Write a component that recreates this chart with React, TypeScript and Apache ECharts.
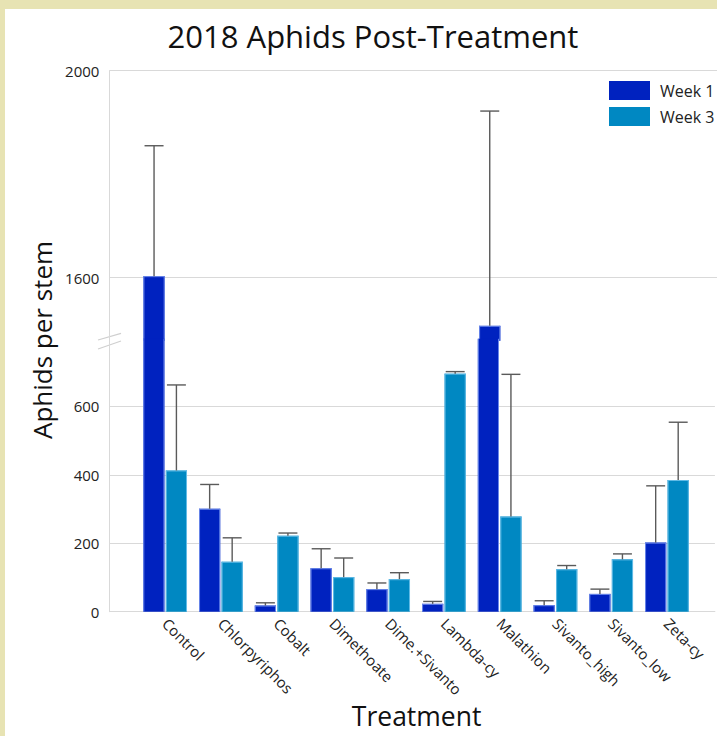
import React, { useEffect, useRef } from "react";
import * as echarts from "echarts";

// ---- data ----
const categories = [
  "Control",
  "Chlorpyriphos",
  "Cobalt",
  "Dimethoate",
  "Dime.+Sivanto",
  "Lambda-cy",
  "Malathion",
  "Sivanto_high",
  "Sivanto_low",
  "Zeta-cy",
];
const week1Mean = [1603, 301, 18, 127, 66, 23, 1507, 19, 52, 202];
const week1Upper = [1855, 372, 26, 184, 84, 30, 1922, 32, 66, 368];
const week3Mean = [413, 146, 222, 101, 95, 696, 278, 124, 153, 385];
const week3Upper = [663, 216, 230, 157, 114, 702, 694, 135, 169, 554];
const upperTicks = [1600, 2000];

// broken axis ranges
const LOW_MIN = 0;
const LOW_MAX = 795;
const UP_MIN = 1480;
const UP_MAX = 2000;

const C1 = "#0022BF";
const C3 = "#0088C2";
const B1 = "#6a88ea";
const B3 = "#62bbe6";
const ERR = "#5a5a5a";
const GRID = "#d9d9d9";
const FONT = "Open Sans";
const TXT = "#222";

function makeRender(side: number, yMin: number, yMax: number, fill: string, stroke: string) {
  return (params: any, api: any) => {
    const xi = api.value(0);
    const v = api.value(1);
    const e = api.value(2);
    const band = api.size([1, 0])[0];
    const cx = api.coord([xi, yMin])[0];
    const barW = band * 0.38;
    const gap = band * 0.012;
    const left = side < 0 ? cx - gap - barW : cx + gap;
    const right = left + barW;
    const mid = left + barW / 2;
    const children: any[] = [];
    if (v > yMin) {
      let top = api.coord([xi, Math.min(v, yMax)])[1];
      let bottom = api.coord([xi, yMin])[1];
      if (v > yMax) top -= 1; // overlap the seam with the upper segment
      if (yMin > 0) bottom += 1;
      children.push({
        type: "rect",
        shape: { x: left, y: top, width: barW, height: bottom - top },
        style: { fill },
      });
      const ls = { stroke, lineWidth: 1 };
      children.push({ type: "line", shape: { x1: left + 0.5, y1: top, x2: left + 0.5, y2: bottom }, style: ls });
      children.push({ type: "line", shape: { x1: right - 0.5, y1: top, x2: right - 0.5, y2: bottom }, style: ls });
      if (v <= yMax) {
        children.push({ type: "line", shape: { x1: left, y1: top + 0.5, x2: right, y2: top + 0.5 }, style: ls });
      }
    }
    if (e > yMin && v < yMax) {
      const lo = api.coord([xi, Math.max(v, yMin)])[1];
      const hi = api.coord([xi, Math.min(e, yMax)])[1];
      children.push({
        type: "line",
        shape: { x1: mid, y1: lo, x2: mid, y2: hi },
        style: { stroke: ERR, lineWidth: 1.4 },
      });
      if (e <= yMax) {
        const cap = band * 0.17;
        children.push({
          type: "line",
          shape: { x1: mid - cap, y1: hi, x2: mid + cap, y2: hi },
          style: { stroke: ERR, lineWidth: 1.4 },
        });
      }
    }
    return { type: "group", children };
  };
}

export default function App() {
  const ref = useRef<HTMLDivElement>(null);
  useEffect(() => {
    document.body.style.margin = "0";
    const chart = echarts.init(ref.current!, null, { renderer: "svg" });
    const d1 = categories.map((_, i) => [i + 1, week1Mean[i], week1Upper[i]]);
    const d3 = categories.map((_, i) => [i + 1, week3Mean[i], week3Upper[i]]);
    const gridLeft = 109.4;
    const xBase = {
      type: "value",
      min: 0,
      max: 10.86,
      interval: 1,
      splitLine: { show: false },
      axisTick: { show: false },
    };
    chart.setOption({
      animation: false,
      backgroundColor: "#ffffff",
      textStyle: { fontFamily: FONT },
      title: {
        text: "2018 Aphids Post-Treatment",
        left: 368,
        top: 15,
        textAlign: "center",
        textStyle: { fontFamily: FONT, fontSize: 31, fontWeight: "normal", color: "#111" },
      },
      legend: {
        orient: "vertical",
        left: 609,
        top: 81,
        padding: 0,
        itemWidth: 41,
        itemHeight: 19,
        itemGap: 7,
        icon: "rect",
        data: ["Week 1", "Week 3"],
        textStyle: { fontFamily: FONT, fontSize: 16, color: TXT, padding: [0, 0, 0, 5] },
      },
      grid: [
        { left: gridLeft, right: 0, top: 70.7, height: 339.8 - 70.7 },
        { left: gridLeft, right: 0, top: 339.8, height: 611.7 - 339.8 },
      ],
      xAxis: [
        { ...xBase, gridIndex: 0, show: false },
        {
          ...xBase,
          gridIndex: 1,
          axisLine: { show: true, lineStyle: { color: GRID, width: 1 } },
          name: "Treatment",
          nameLocation: "middle",
          nameGap: 91,
          nameTextStyle: { fontFamily: FONT, fontSize: 26.5, color: "#111", padding: [0, 0, 0, 9] },
          axisLabel: {
            rotate: -45,
            margin: 9,
            fontFamily: FONT,
            fontSize: 15,
            color: TXT,
            formatter: (v: number) => {
              const i = Math.round(v);
              return Math.abs(v - i) < 1e-6 && i >= 1 && i <= categories.length ? categories[i - 1] : "";
            },
          },
        },
      ],
      yAxis: [
        {
          type: "value",
          gridIndex: 0,
          min: UP_MIN,
          max: UP_MAX,
          interval: 40,
          axisLine: { show: true, lineStyle: { color: GRID } },
          axisTick: { show: false },
          splitLine: { show: false },
          axisLabel: {
            margin: 10,
            fontFamily: FONT,
            fontSize: 15,
            color: TXT,
            formatter: (v: number) => (upperTicks.includes(v) ? String(v) : ""),
          },
        },
        {
          type: "value",
          gridIndex: 1,
          min: LOW_MIN,
          max: LOW_MAX,
          interval: 200,
          axisLine: { show: true, lineStyle: { color: GRID } },
          axisTick: { show: false },
          splitLine: { show: true, showMaxLine: false, lineStyle: { color: GRID, width: 1 } },
          axisLabel: {
            margin: 10,
            fontFamily: FONT,
            fontSize: 15,
            color: TXT,
            showMaxLabel: false,
          },
        },
      ],
      series: [
        {
          name: "Week 1",
          type: "custom",
          xAxisIndex: 0,
          yAxisIndex: 0,
          z: 3,
          itemStyle: { color: C1 },
          renderItem: makeRender(-1, UP_MIN, UP_MAX, C1, B1),
          data: d1,
          encode: { x: 0, y: 1 },
          clip: false,
          markLine: {
            silent: true,
            symbol: "none",
            z: 1,
            label: { show: false },
            lineStyle: { color: GRID, width: 1, type: "solid" },
            data: upperTicks.map((t) => ({ yAxis: t })),
          },
        },
        {
          name: "Week 3",
          type: "custom",
          xAxisIndex: 0,
          yAxisIndex: 0,
          z: 3,
          itemStyle: { color: C3 },
          renderItem: makeRender(1, UP_MIN, UP_MAX, C3, B3),
          data: d3,
          encode: { x: 0, y: 1 },
          clip: false,
        },
        {
          name: "Week 1",
          type: "custom",
          xAxisIndex: 1,
          yAxisIndex: 1,
          z: 3,
          itemStyle: { color: C1 },
          renderItem: makeRender(-1, LOW_MIN, LOW_MAX, C1, B1),
          data: d1,
          encode: { x: 0, y: 1 },
          clip: false,
        },
        {
          name: "Week 3",
          type: "custom",
          xAxisIndex: 1,
          yAxisIndex: 1,
          z: 3,
          itemStyle: { color: C3 },
          renderItem: makeRender(1, LOW_MIN, LOW_MAX, C3, B3),
          data: d3,
          encode: { x: 0, y: 1 },
          clip: false,
        },
      ],
      graphic: [
        { type: "rect", shape: { x: 0, y: 0, width: 717, height: 9 }, style: { fill: "#E7E3B3" }, silent: true },
        { type: "rect", shape: { x: 0, y: 0, width: 5, height: 736 }, style: { fill: "#E7E3B3" }, silent: true },
        {
          type: "text",
          x: 42,
          y: 340,
          rotation: Math.PI / 2,
          style: {
            text: "Aphids per stem",
            font: `26px "${FONT}"`,
            fill: "#111",
            textAlign: "center",
            textVerticalAlign: "middle",
          },
        },
        { type: "line", shape: { x1: 98, y1: 340, x2: 121, y2: 333.3 }, style: { stroke: "#cfcfcf", lineWidth: 1.2 } },
        { type: "line", shape: { x1: 98, y1: 349, x2: 121, y2: 341 }, style: { stroke: "#cfcfcf", lineWidth: 1.2 } },
      ],
    });
    return () => chart.dispose();
  }, []);
  return <div ref={ref} style={{ position: "absolute", left: 0, top: 0, width: 717, height: 736 }} />;
}
